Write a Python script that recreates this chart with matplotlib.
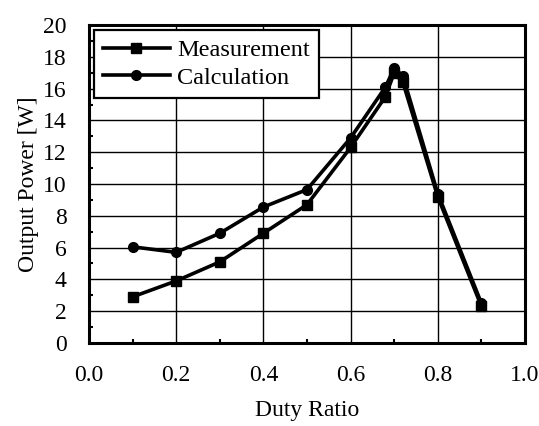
import matplotlib
matplotlib.use("Agg")
import matplotlib.pyplot as plt
from matplotlib.ticker import MultipleLocator

# data
duty_meas = [0.1, 0.2, 0.3, 0.4, 0.5, 0.6, 0.68, 0.70, 0.72, 0.8, 0.9]
power_meas = [2.9, 3.9, 5.1, 6.9, 8.7, 12.3, 15.5, 17.0, 16.4, 9.2, 2.3]
duty_calc = [0.1, 0.2, 0.3, 0.4, 0.5, 0.6, 0.68, 0.70, 0.72, 0.8, 0.9]
power_calc = [6.05, 5.7, 6.9, 8.55, 9.65, 12.9, 16.1, 17.3, 16.8, 9.4, 2.5]
x_ticks = [0.0, 0.2, 0.4, 0.6, 0.8, 1.0]
y_ticks = [0, 2, 4, 6, 8, 10, 12, 14, 16, 18, 20]

plt.rcParams['font.family'] = ['Liberation Serif', 'DejaVu Serif']

fig = plt.figure(figsize=(5.39, 4.26), dpi=100)
ax = fig.add_axes([0.165, 0.195, 0.809, 0.746])

ax.plot(duty_meas, power_meas, color='black', lw=2.6, marker='s', ms=6.5,
        label='Measurement')
ax.plot(duty_calc, power_calc, color='black', lw=2.6, marker='o', ms=7,
        label='Calculation')

ax.set_xlim(0, 1.0)
ax.set_ylim(0, 20)
ax.set_xticks(x_ticks)
ax.set_yticks(y_ticks)
ax.set_xticklabels(["%.1f" % v for v in x_ticks])
ax.xaxis.set_minor_locator(MultipleLocator(0.1))
ax.yaxis.set_minor_locator(MultipleLocator(1))
ax.tick_params(which='major', direction='in', length=0, pad=16, labelsize=17)
ax.tick_params(which='minor', direction='in', length=3, width=1.5)
ax.grid(True, which='major', color='black', lw=1.0)
for s in ax.spines.values():
    s.set_linewidth(2.2)

ax.set_xlabel('Duty Ratio', fontsize=17, labelpad=10)
ax.set_ylabel('Output Power [W]', fontsize=17, labelpad=3)

leg = ax.legend(loc='upper left', fontsize=17.5, frameon=True, fancybox=False,
                handlelength=2.75, handletextpad=0.3, borderpad=0.38,
                labelspacing=0.22, borderaxespad=0.2)
leg.get_frame().set_edgecolor('black')
leg.get_frame().set_linewidth(1.6)
leg.get_frame().set_alpha(1)

fig.savefig('out.png', dpi=100)
